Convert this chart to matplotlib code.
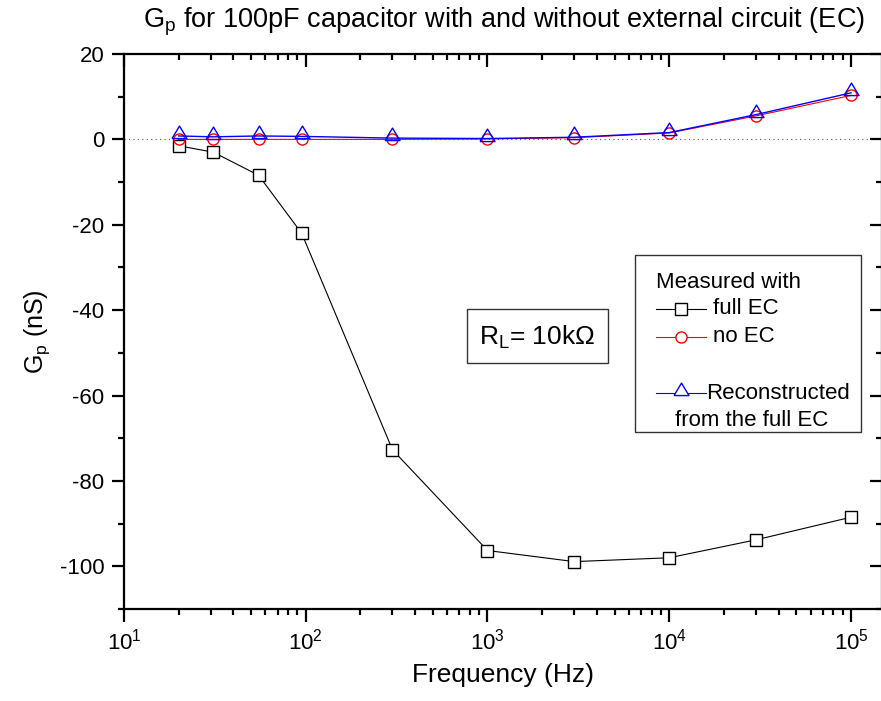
import matplotlib
matplotlib.use('Agg')
import matplotlib.pyplot as plt
from matplotlib.lines import Line2D
from matplotlib.patches import Rectangle
from matplotlib.ticker import LogLocator, MultipleLocator
import numpy as np

plt.rcParams['font.family'] = ['Liberation Sans', 'DejaVu Sans']
plt.rcParams['mathtext.fontset'] = 'custom'
plt.rcParams['mathtext.rm'] = 'Liberation Sans'
plt.rcParams['mathtext.it'] = 'Liberation Sans:italic'
plt.rcParams['mathtext.bf'] = 'Liberation Sans:bold'
plt.rcParams['axes.unicode_minus'] = False

# data
freq = [20, 31, 55, 95, 300, 1000, 3000, 10000, 30000, 100000]
gp_full_ec = [-1.5, -3.0, -8.4, -22.0, -72.7, -96.3, -98.9, -98.0, -93.8, -88.5]
gp_no_ec = [0.0, 0.0, 0.0, 0.0, 0.0, 0.1, 0.4, 1.5, 5.5, 10.3]
gp_reconstructed = [0.8, 0.6, 0.8, 0.7, 0.3, 0.2, 0.5, 1.6, 5.8, 10.9]

W, H = 881, 701
fig = plt.figure(figsize=(W / 100, H / 100), dpi=100)

def fx(x):
    return x / W

def fy(y):
    return 1 - y / H

pos = [fx(124), fy(609), (882 - 124) / W, (609 - 54) / H]
ax = fig.add_axes(pos)
ax.set_xscale('log')
ax.set_xlim(10, 10 ** (5 + 31 / 181.75))
ax.set_ylim(-110, 20)

# Origin style triangle: data point sits near the base
tri = [(-0.72, -0.2), (0.72, -0.2), (0, 1.0), (-0.72, -0.2)]
tri_ms = 15

ax.axhline(0, color='#555555', lw=0.8, ls=(0, (1, 3)), zorder=1)

ms = 8
ax.plot(freq, gp_full_ec, color='black', lw=0.8, marker='s', ms=ms,
        mfc='white', mec='black', mew=1.0, zorder=3)
ax.plot(freq, gp_no_ec, color='red', lw=0.8, marker='o', ms=ms,
        mfc='none', mec='red', mew=1.0, zorder=4)
ax.plot(freq, gp_reconstructed, color='blue', lw=1.0, marker=tri, ms=tri_ms,
        mfc='none', mec='blue', mew=1.0, zorder=5)

for s in ax.spines.values():
    s.set_linewidth(1.6)

ax.xaxis.set_major_locator(LogLocator(base=10, numticks=10))
ax.xaxis.set_minor_locator(LogLocator(base=10, subs=np.arange(2, 10), numticks=10))
ax.yaxis.set_major_locator(MultipleLocator(20))
ax.yaxis.set_minor_locator(MultipleLocator(10))

ax.tick_params(which='major', direction='out', length=9, width=1.6,
               labelsize=16, pad=5)
ax.tick_params(which='minor', direction='out', length=4.5, width=1.6)

# top and right ticks point inward
ax2 = fig.add_axes(pos, sharex=ax, sharey=ax, frameon=False)
ax2.patch.set_visible(False)
ax2.tick_params(which='both', direction='in', bottom=False, left=False,
                top=True, right=True, labelbottom=False, labelleft=False,
                width=1.6)
ax2.tick_params(which='major', length=9)
ax2.tick_params(which='minor', length=4.5)

ax.set_xlabel('Frequency (Hz)', fontsize=19, labelpad=6)
ax.set_ylabel(r'G$_\mathrm{p}$ (nS)', fontsize=18, labelpad=6)

fig.text(fx(504), fy(22), r'G$_\mathrm{p}$ for 100pF capacitor with and without external circuit (EC)',
         fontsize=19.5, ha='center', va='center')

# R_L annotation box
fig.add_artist(Rectangle((fx(467), fy(363)), (608 - 467) / W, (363 - 309) / H,
                         transform=fig.transFigure, fill=False, lw=1.0,
                         edgecolor='#333333'))
fig.text(fx(537), fy(337), r'R$_\mathrm{L}$= 10k$\Omega$', fontsize=19,
         ha='center', va='center')

# legend box
fig.add_artist(Rectangle((fx(635), fy(432)), (861 - 635) / W, (432 - 255) / H,
                         transform=fig.transFigure, fill=False, lw=1.0,
                         edgecolor='#333333'))
fig.text(fx(656), fy(282), 'Measured with', fontsize=16, va='center')
entries = [
    ('black', 's', ms, 309, 'full EC', 713),
    ('red', 'o', ms, 337, 'no EC', 713),
    ('blue', tri, tri_ms, 393, 'Reconstructed', 706),
]
for color, mk, size, y, label, tx in entries:
    fig.add_artist(Line2D([fx(656), fx(706)], [fy(y), fy(y)], color=color,
                          lw=0.8, transform=fig.transFigure))
    fig.add_artist(Line2D([fx(681)], [fy(y)], marker=mk, ms=size, mfc='white',
                          mec=color, mew=1.0, transform=fig.transFigure))
    fig.text(fx(tx), fy(y), label, fontsize=16, va='center')
fig.text(fx(675), fy(420), 'from the full EC', fontsize=16, va='center')

fig.savefig('out.png', dpi=100)
